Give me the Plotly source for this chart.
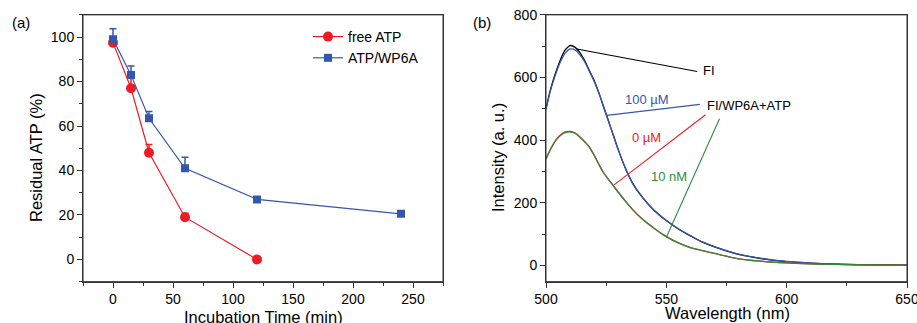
import plotly.graph_objects as go

# ---------- Panel (a) data ----------
time_free = [0, 15, 30, 60, 120]
resid_free = [97.5, 77, 48, 19, 0]
err_free = [2.5, 7, 3.7, 1.8, 0.5]

time_wp6a = [0, 15, 30, 60, 120, 240]
resid_wp6a = [99, 83, 63.5, 41, 27, 20.5]
err_wp6a = [4.7, 4, 3, 5, 1, 1]

# ---------- Panel (b) data ----------
wavelength = [500, 502, 504, 506, 508, 510, 512, 514, 516, 518, 520, 522, 524, 526, 528,
              530, 533, 536, 540, 545, 550, 555, 560, 565, 570, 580, 590, 600, 610, 620, 635, 650]
fi = [500, 565, 615, 657, 688, 702, 697, 680, 655, 622, 590, 550, 505, 460, 415,
      370, 310, 262, 218, 175, 143, 116, 94, 74, 59, 35, 21, 12, 7, 4, 2, 1]
fi_100uM = [498, 562, 610, 650, 678, 691, 688, 673, 651, 620, 589, 550, 505, 460, 415,
            370, 310, 262, 218, 175, 143, 117, 95, 75, 60, 36, 22, 12.5, 7.5, 4.5, 2, 1]
fi_0uM = [340, 373, 399, 416, 426, 428, 423, 411, 396, 378, 352, 322, 295, 274, 254,
          234, 205, 178, 148, 118, 92, 72, 57, 47, 38, 21, 13, 8, 5, 3, 1.5, 1]
fi_10nM = [340, 372, 398, 415, 424, 426, 422, 410, 395, 378, 352, 322, 295, 274, 254,
           234, 205, 178, 148, 118, 92, 72, 57, 47, 38, 21, 13, 8, 5, 3, 1.5, 1]

# leader lines (x pair, y pair) for labels
lead_fi_x, lead_fi_y = [512.8, 562.8], [691, 619]
lead_100_x, lead_100_y = [525.3, 563.9], [479, 514]
lead_0_x, lead_0_y = [528.3, 566.3], [257, 481]
lead_10_x, lead_10_y = [550, 572.1], [90, 468]

RED = "#ED1C24"
BLUE = "#3456AC"
GREEN = "#2E8B3E"
FONT = "Liberation Sans, Arial, sans-serif"
LINE = "#333333"

fig = go.Figure()

# panel (a)
fig.add_trace(go.Scatter(
    x=time_free, y=resid_free, mode="lines+markers", name="free ATP",
    line=dict(color=RED, width=1.2),
    marker=dict(symbol="circle", size=10, color=RED),
    error_y=dict(type="data", array=err_free, arrayminus=[0]*len(err_free), symmetric=False,
                 color=RED, thickness=1.5, width=3.5),
    xaxis="x", yaxis="y"))
fig.add_trace(go.Scatter(
    x=time_wp6a, y=resid_wp6a, mode="lines+markers", name="ATP/WP6A",
    line=dict(color=BLUE, width=1.2),
    marker=dict(symbol="square", size=8, color=BLUE),
    error_y=dict(type="data", array=err_wp6a, arrayminus=[0]*len(err_wp6a), symmetric=False,
                 color=BLUE, thickness=1.5, width=3.5),
    xaxis="x", yaxis="y"))

# panel (b)
for ys, col in [(fi, "black"), (fi_100uM, BLUE), (fi_0uM, RED), (fi_10nM, GREEN)]:
    fig.add_trace(go.Scatter(x=wavelength, y=ys, mode="lines", line=dict(color=col, width=1.3, shape="spline"),
                             showlegend=False, xaxis="x2", yaxis="y2"))
for lx, ly, col in [(lead_fi_x, lead_fi_y, "black"), (lead_100_x, lead_100_y, BLUE),
                    (lead_0_x, lead_0_y, RED), (lead_10_x, lead_10_y, GREEN)]:
    fig.add_trace(go.Scatter(x=lx, y=ly, mode="lines", line=dict(color=col, width=1.1),
                             showlegend=False, xaxis="x2", yaxis="y2"))

axis_common = dict(showline=True, linecolor=LINE, linewidth=1, mirror=True, ticks="outside",
                   ticklen=5, tickwidth=1, tickcolor=LINE, showgrid=False, zeroline=False,
                   tickfont=dict(family=FONT, size=14, color="black"), ticklabeloverflow="allow")

fig.update_layout(
    width=917, height=323, margin=dict(l=0, r=0, t=0, b=0, pad=0, autoexpand=False),
    autosize=False,
    paper_bgcolor="white", plot_bgcolor="white",
    font=dict(family=FONT, color="black"),
    xaxis=dict(domain=[83/917, 443/917], range=[-25, 275], dtick=50, tick0=0,
               minor=dict(dtick=25, tick0=0, ticks="outside", ticklen=3, tickcolor=LINE),
               anchor="y", **axis_common),
    yaxis=dict(domain=[0.128, 0.954], range=[-10, 110], dtick=20, tick0=0,
               minor=dict(dtick=10, tick0=0, ticks="outside", ticklen=3, tickcolor=LINE),
               anchor="x", **axis_common),
    xaxis2=dict(domain=[546/917, 907/917], range=[500, 650], dtick=50, tick0=500,
                minor=dict(dtick=25, tick0=500, ticks="outside", ticklen=3, tickcolor=LINE),
                anchor="y2", **axis_common),
    yaxis2=dict(domain=[0.128, 0.954], range=[-52, 800], dtick=200, tick0=0,
                minor=dict(dtick=100, tick0=0, ticks="outside", ticklen=3, tickcolor=LINE),
                anchor="x2", **axis_common),
    legend=dict(x=308/917, y=1-21/323, xanchor="left", yanchor="top",
                font=dict(family=FONT, size=14), bgcolor="rgba(0,0,0,0)",
                tracegroupgap=0, itemwidth=30),
    showlegend=True,
)

# frame boxes (plot area outlines)
fig.add_shape(type="rect", xref="x domain", yref="y domain", x0=0, x1=1, y0=0, y1=1,
              line=dict(color=LINE, width=1), layer="above")
fig.add_shape(type="rect", xref="x2 domain", yref="y2 domain", x0=0, x1=1, y0=0, y1=1,
              line=dict(color=LINE, width=1), layer="above")

ann = []
def pa(text, x, y, size, xanchor="center", yanchor="middle", angle=0, color="black",
       xref="paper", yref="paper"):
    ann.append(dict(text=text, x=x, y=y, xref=xref, yref=yref, showarrow=False,
                    xanchor=xanchor, yanchor=yanchor, textangle=angle,
                    font=dict(family=FONT, size=size, color=color)))

# panel labels
pa("(a)", 21/917, 1-22/323, 15)
pa("(b)", 482/917, 1-22/323, 15)
# axis titles
pa("Residual ATP (%)", 36/917, 1-158/323, 16.5, angle=-90)
pa("Incubation Time (min)", 263/917, 1-317/323, 16.5)
pa("Intensity (a. u.)", 498/917, 1-158/323, 16.5, angle=-90)
pa("Wavelength (nm)", 727/917, 1-313/323, 16.5)
# panel b labels
pa("FI", 564.3, 621, 13, xanchor="left", xref="x2", yref="y2")
pa("FI/WP6A+ATP", 566.2, 512, 13, xanchor="left", xref="x2", yref="y2")
pa("100 µM", 542.0, 530, 13, color=BLUE, xref="x2", yref="y2")
pa("0 µM", 541.8, 409, 13, color=RED, xref="x2", yref="y2")
pa("10 nM", 551.1, 283, 13, color=GREEN, xref="x2", yref="y2")
fig.update_layout(annotations=ann)

post = (
    "document.documentElement.style.margin='0';"
    "document.documentElement.style.padding='0';"
    "document.documentElement.style.overflow='hidden';"
    "document.body.style.margin='0';"
    "document.body.style.padding='0';"
    "document.body.style.overflow='hidden';"
    "var gd=document.getElementById('{plot_id}');"
    "gd.style.position='fixed';gd.style.left='0px';gd.style.top='0px';"
)
fig.write_html("out.html", post_script=post,
               config={"displayModeBar": False, "responsive": False})
